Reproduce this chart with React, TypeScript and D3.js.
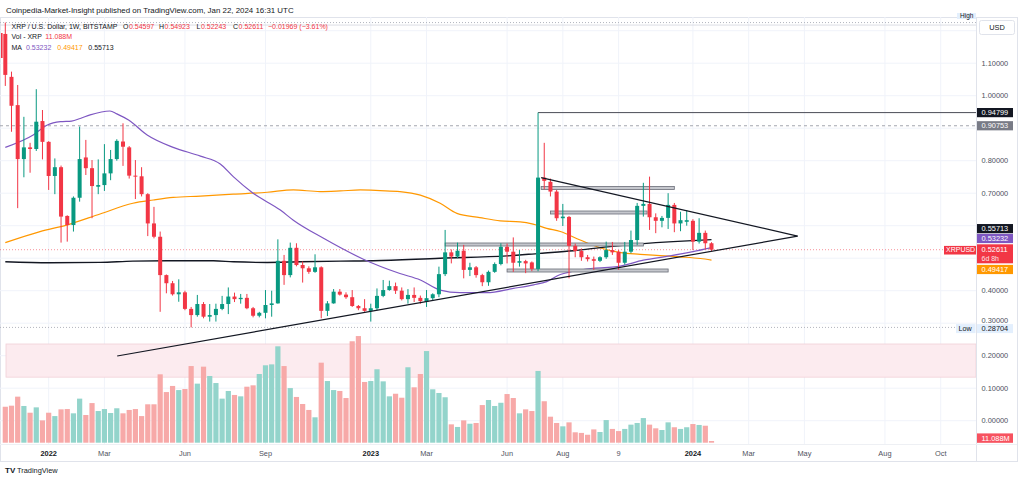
import React from "react";
import * as d3 from "d3";

// ---------- DATA ----------
const START = Date.UTC(2021, 10, 15); // first weekly candle (Mon)
const WEEK = 7 * 24 * 3600 * 1000;
const wk = (i: number) => new Date(START + i * WEEK);

const opens = [1.19,1.058,0.971,0.805,0.841,0.836,0.922,0.858,0.753,0.78,0.63,0.602,0.686,0.81,0.777,0.72,0.725,0.761,0.805,0.859,0.841,0.754,0.752,0.697,0.607,0.566,0.448,0.423,0.389,0.395,0.344,0.325,0.359,0.32,0.325,0.344,0.359,0.382,0.374,0.378,0.346,0.323,0.332,0.356,0.361,0.492,0.448,0.532,0.479,0.469,0.458,0.472,0.338,0.361,0.397,0.388,0.38,0.353,0.346,0.338,0.346,0.384,0.402,0.414,0.4,0.374,0.387,0.378,0.366,0.377,0.389,0.451,0.518,0.505,0.523,0.464,0.472,0.448,0.426,0.458,0.482,0.535,0.52,0.486,0.491,0.487,0.467,0.748,0.735,0.705,0.623,0.627,0.538,0.522,0.503,0.497,0.492,0.503,0.525,0.52,0.486,0.52,0.556,0.661,0.667,0.626,0.615,0.624,0.664,0.607,0.612,0.615,0.551,0.578,0.54597];
const highs = [1.225,1.074,1.033,0.935,0.855,1.02,0.956,0.86,0.807,0.785,0.632,0.69,0.905,0.864,0.802,0.804,0.851,0.833,0.866,0.915,0.845,0.802,0.78,0.7,0.658,0.582,0.45,0.43,0.435,0.4,0.35,0.387,0.365,0.359,0.36,0.384,0.41,0.394,0.39,0.39,0.35,0.335,0.402,0.4,0.558,0.51,0.548,0.546,0.49,0.475,0.512,0.475,0.368,0.405,0.405,0.395,0.402,0.356,0.374,0.36,0.407,0.433,0.431,0.425,0.41,0.405,0.41,0.385,0.402,0.392,0.474,0.587,0.527,0.548,0.541,0.486,0.476,0.452,0.462,0.487,0.546,0.545,0.564,0.525,0.495,0.49,0.948,0.855,0.745,0.71,0.667,0.63,0.545,0.53,0.51,0.505,0.506,0.551,0.55,0.525,0.55,0.585,0.67,0.732,0.751,0.638,0.63,0.7,0.67,0.643,0.648,0.62,0.623,0.585,0.54923];
const lows = [1.03,0.889,0.654,0.749,0.763,0.83,0.804,0.71,0.697,0.548,0.551,0.582,0.674,0.756,0.623,0.697,0.707,0.74,0.8,0.784,0.745,0.682,0.69,0.568,0.561,0.335,0.392,0.385,0.366,0.34,0.28704,0.32,0.315,0.305,0.305,0.34,0.328,0.365,0.36,0.343,0.318,0.318,0.315,0.32,0.36,0.418,0.441,0.475,0.425,0.452,0.455,0.315,0.322,0.36,0.385,0.375,0.35,0.34,0.335,0.305,0.34,0.38,0.4,0.39,0.37,0.36,0.365,0.36,0.35,0.37,0.38,0.445,0.484,0.5,0.438,0.445,0.44,0.414,0.415,0.455,0.478,0.484,0.458,0.474,0.454,0.46,0.46,0.712,0.69,0.615,0.599,0.438,0.503,0.492,0.49,0.464,0.488,0.498,0.51,0.464,0.48,0.515,0.54,0.628,0.587,0.577,0.595,0.59,0.58,0.583,0.6,0.525,0.545,0.527,0.52243];
const closes = [1.064,0.969,0.805,0.841,0.836,0.92,0.858,0.753,0.78,0.628,0.602,0.686,0.805,0.777,0.722,0.725,0.761,0.805,0.861,0.843,0.754,0.752,0.697,0.607,0.566,0.448,0.423,0.389,0.395,0.344,0.325,0.359,0.32,0.325,0.344,0.359,0.382,0.374,0.378,0.346,0.323,0.332,0.356,0.361,0.492,0.448,0.532,0.479,0.469,0.458,0.472,0.338,0.361,0.397,0.388,0.38,0.353,0.346,0.338,0.346,0.384,0.402,0.414,0.4,0.374,0.387,0.378,0.368,0.377,0.389,0.451,0.518,0.505,0.523,0.464,0.472,0.448,0.426,0.458,0.482,0.535,0.52,0.486,0.491,0.484,0.467,0.748,0.738,0.705,0.623,0.628,0.538,0.522,0.503,0.497,0.492,0.503,0.525,0.518,0.486,0.52,0.556,0.661,0.667,0.626,0.615,0.624,0.664,0.607,0.617,0.617,0.551,0.578,0.546,0.52611];
const volumes = [235,242,301,240,196,231,146,196,174,218,220,192,288,181,259,207,220,194,225,192,214,220,174,251,251,447,331,371,344,351,501,386,497,436,390,288,338,312,303,366,375,449,506,512,630,501,357,299,253,214,166,523,403,344,338,292,663,697,397,403,480,401,303,320,294,493,362,449,599,349,325,297,120,103,146,124,129,246,279,240,261,318,292,192,218,207,469,271,170,129,107,133,68,64,52,87,70,148,90,76,90,118,129,161,118,94,83,133,101,90,101,122,116,111,11.088];

// moving averages: [week index, price]
const maPurple = [[0,0.841],[4.5,0.879],[6.8,0.91],[8.9,0.92],[10.7,0.922],[12.1,0.93],[13.7,0.941],[16.9,0.953],[18,0.944],[19.9,0.925],[22.9,0.879],[27.1,0.841],[31.5,0.814],[34.7,0.79],[36.8,0.751],[40,0.7],[44.4,0.648],[46.5,0.617],[51.3,0.562],[57.8,0.497],[63.7,0.453],[67,0.433],[70.2,0.402],[73.4,0.394],[77.7,0.394],[82,0.407],[85.3,0.418],[87.4,0.428],[89.6,0.45],[91.2,0.458],[94.9,0.469],[98.8,0.474],[103,0.494],[107.3,0.507],[111,0.52],[114,0.53232]];
const maOrange = [[0,0.548],[5.6,0.582],[9.9,0.602],[15.3,0.636],[20.6,0.669],[23.9,0.679],[27.1,0.687],[31.5,0.691],[36.8,0.697],[42.3,0.703],[46.5,0.71],[50.8,0.705],[54.1,0.707],[57.3,0.71],[60.5,0.708],[63.7,0.705],[67,0.694],[70.2,0.669],[72.9,0.638],[76.6,0.625],[79.9,0.615],[83.1,0.612],[85.2,0.605],[87.4,0.592],[89.6,0.582],[92.8,0.556],[96,0.532],[99.3,0.517],[102.5,0.512],[105.7,0.508],[108.9,0.504],[112.2,0.499],[114,0.49417]];
const maBlack = [[0,0.489],[7.2,0.486],[15.3,0.487],[20.6,0.491],[26.1,0.492],[33.6,0.492],[36.8,0.489],[42.3,0.487],[47.6,0.489],[54.1,0.491],[59.4,0.492],[70.2,0.5],[81,0.507],[86.3,0.515],[91.7,0.523],[97.2,0.535],[102.5,0.544],[107.8,0.551],[114,0.55713]];

// drawings
const trendLower = [[18.06,0.199],[127.9,0.568]];
const trendUpper = [[86.5,0.748],[127.9,0.568]];
const zones = [
  { from: 86.5, to: 108, top: 0.7206, bottom: 0.7114 },
  { from: 88, to: 103.6, top: 0.6452, bottom: 0.636 },
  { from: 71, to: 103, top: 0.5468, bottom: 0.5375 },
  { from: 81, to: 107, top: 0.4668, bottom: 0.4575 },
];
const pinkBand = [0.134, 0.236];
const highLevel = 0.94799;
const highLevelFrom = 86;
const dashedLevel = 0.90753;
const lowLevel = 0.28704;
const lastPrice = 0.52611;
const rangeHigh = 1.225;

const priceTicks = [0, 0.1, 0.2, 0.4, 0.7, 0.8, 1.0, 1.1];
const squeezedTick = 0.3; // pushed up by the Low tag
const gridPrices = [0, 0.1, 0.2, 0.3, 0.4, 0.5, 0.6, 0.7, 0.8, 0.9, 1.0, 1.1, 1.2];
const timeTickDates = ["2022-01-03","2022-03-07","2022-06-06","2022-09-05","2023-01-02","2023-03-06","2023-06-05","2023-08-07","2023-10-09","2024-01-01","2024-03-04","2024-05-06","2024-08-05","2024-10-07"];
const timeTickLabels = ["2022","Mar","Jun","Sep","2023","Mar","Jun","Aug","9","2024","Mar","May","Aug","Oct"];

const UP = "#089981";
const DOWN = "#f23645";
const VOL_UP = "#93d4cb";
const VOL_DOWN = "#f7a9a8";
const FONT = "'Liberation Sans', Arial, sans-serif";

export default function App() {
  const L = 0, R = 976, T = 17, B = 444;
  const x = d3.scaleTime().domain([wk(0), wk(114)]).range([5.3, 711.5]);
  const xi = (i: number) => x(wk(i));
  const y = d3.scaleLinear().domain([0.4, 1.1]).range([290.7, 63.2]);
  const vy = d3.scaleLinear().domain([0, 700]).range([442.7, 335.6]);
  const line = d3.line<number[]>().x((d) => xi(d[0])).y((d) => y(d[1])).curve(d3.curveMonotoneX);
  const straight = d3.line<number[]>().x((d) => xi(d[0])).y((d) => y(d[1]));
  const fmt = d3.format(".5f");

  const axisTags = [
    { v: highLevel, shift: 0, bg: "#131722", fg: "#fff" },
    { v: dashedLevel, shift: 0, bg: "#787b86", fg: "#fff" },
    { v: 0.55713, shift: -11, bg: "#131722", fg: "#fff" },
    { v: 0.53232, shift: -9.2, bg: "#7e57c2", fg: "#fff" },
    { v: 0.49417, shift: 9.4, bg: "#ff9800", fg: "#fff" },
  ];
  const lowTagTop = y(lowLevel) - 3.3;

  return (
    <svg width={1024} height={483} style={{ position: "absolute", left: 0, top: 0, background: "#fff" }} fontFamily={FONT}>
      <defs>
        <clipPath id="plot"><rect x={L} y={T} width={R - L} height={B - T} /></clipPath>
        <clipPath id="topClip"><rect x={950} y={13} width={30} height={10} /></clipPath>
      </defs>
      <rect x={0} y={0} width={1024} height={483} fill="#fff" />
      <text x={6} y={12.5} fontSize={7.9} fill="#131722">Coinpedia-Market-Insight published on TradingView.com, Jan 22, 2024 16:31 UTC</text>

      {/* frame */}
      <rect x={0.5} y={T + 0.5} width={1017} height={444} fill="none" stroke="#e0e3eb" />
      <line x1={R + 0.5} x2={R + 0.5} y1={T} y2={461.5} stroke="#e0e3eb" />
      <line x1={0} x2={1017} y1={B + 0.5} y2={B + 0.5} stroke="#eef0f4" />

      <g clipPath="url(#plot)">
        {gridPrices.map((p) => (
          <line key={"g" + p} x1={L} x2={R} y1={y(p)} y2={y(p)} stroke="#f0f3fa" />
        ))}
        {timeTickDates.map((d) => {
          const xx = x(new Date(d + "T00:00:00Z"));
          return <line key={"v" + d} x1={xx} x2={xx} y1={T} y2={B} stroke="#f0f3fa" />;
        })}

        {/* pink band */}
        <rect x={6} y={y(pinkBand[1])} width={R - 6} height={y(pinkBand[0]) - y(pinkBand[1])} fill="#fcebef" stroke="#f1cfd8" strokeWidth={0.8} />

        {/* volume */}
        {volumes.map((v, i) => (
          <rect key={"vol" + i} x={xi(i) - 2.6} y={vy(v)} width={5.2} height={vy(0) - vy(v)} fill={closes[i] >= opens[i] ? VOL_UP : VOL_DOWN} />
        ))}

        {/* levels */}
        <line x1={L} x2={R} y1={y(rangeHigh)} y2={y(rangeHigh)} stroke="#b2b5be" strokeDasharray="1,2" />
        <line x1={L} x2={R} y1={y(rangeHigh) + 2.5} y2={y(rangeHigh) + 2.5} stroke="#d1d4dc" strokeWidth={0.8} />
        <line x1={L} x2={R} y1={y(dashedLevel)} y2={y(dashedLevel)} stroke="#a3a6af" strokeDasharray="3,3" />
        <line x1={xi(highLevelFrom)} x2={R} y1={y(highLevel)} y2={y(highLevel)} stroke="#4a4d57" strokeWidth={1} />
        <line x1={L} x2={955} y1={y(lowLevel)} y2={y(lowLevel)} stroke="#b2b5be" strokeDasharray="1,2" />
        <line x1={L} x2={R} y1={y(lastPrice)} y2={y(lastPrice)} stroke="#f23645" strokeOpacity={0.55} strokeDasharray="1,2" />

        {/* moving averages */}
        <path d={line(maOrange as any) || ""} fill="none" stroke="#ff9800" strokeWidth={1.2} />
        <path d={line(maBlack as any) || ""} fill="none" stroke="#131722" strokeWidth={1.4} />
        <path d={line(maPurple as any) || ""} fill="none" stroke="#7e57c2" strokeWidth={1.2} />

        {/* zones */}
        {zones.map((z, k) => (
          <rect key={"z" + k} x={xi(z.from)} y={y(z.top)} width={xi(z.to) - xi(z.from)} height={y(z.bottom) - y(z.top)} fill="#c5c7cd" stroke="#6a6d78" strokeWidth={0.8} />
        ))}

        {/* candles */}
        {opens.map((o, i) => {
          const c = closes[i];
          const col = c >= o ? UP : DOWN;
          const cx = xi(i);
          const top = y(Math.max(o, c));
          const h = Math.max(1, Math.abs(y(o) - y(c)));
          return (
            <g key={"c" + i}>
              <line x1={cx} x2={cx} y1={y(highs[i])} y2={y(lows[i])} stroke={col} strokeWidth={1} />
              <rect x={cx - 2} y={top} width={4} height={h} fill={col} />
            </g>
          );
        })}

        {/* triangle */}
        <path d={straight(trendLower as any) || ""} fill="none" stroke="#131722" strokeWidth={1.2} />
        <path d={straight(trendUpper as any) || ""} fill="none" stroke="#131722" strokeWidth={1.2} />
      </g>

      {/* legend */}
      <rect x={1} y={33} width={1.6} height={25} fill={DOWN} />
      <g fontSize={7}>
        <text y={28.6} fill="#131722">
          <tspan x={11.5}>XRP / U.S. Dollar, 1W, BITSTAMP</tspan>
          <tspan x={123}>O</tspan>
          <tspan dx={0.5} fill={DOWN}>{fmt(opens[114])}</tspan>
          <tspan x={159}>H</tspan>
          <tspan dx={0.5} fill={DOWN}>{fmt(highs[114])}</tspan>
          <tspan x={196.5}>L</tspan>
          <tspan dx={0.5} fill={DOWN}>{fmt(lows[114])}</tspan>
          <tspan x={233}>C</tspan>
          <tspan dx={0.5} fill={DOWN}>{fmt(closes[114])}</tspan>
          <tspan x={268} fill={DOWN}>−0.01969 (−3.61%)</tspan>
        </text>
        <text y={39.3} fill="#131722">
          <tspan x={11.5}>Vol - XRP</tspan>
          <tspan dx={3.5} fill={DOWN}>11.088M</tspan>
        </text>
        <text y={50} fill="#131722">
          <tspan x={11.5}>MA</tspan>
          <tspan x={26} fill="#7e57c2">{fmt(maPurple[maPurple.length - 1][1])}</tspan>
          <tspan x={57.3} fill="#ff9800">{fmt(maOrange[maOrange.length - 1][1])}</tspan>
          <tspan x={88.3} fill="#131722">{fmt(maBlack[maBlack.length - 1][1])}</tspan>
        </text>
      </g>

      {/* High marker at top (mostly cut off) */}
      <g clipPath="url(#topClip)">
        <rect x={957} y={11} width={19} height={8} fill="#e3effd" />
        <text x={960} y={17.5} fontSize={6.5} fill="#131722">High</text>
      </g>

      {/* price axis */}
      <rect x={979.5} y={20.5} width={35} height={14} rx={2} fill="#fff" stroke="#e0e3eb" />
      <text x={997} y={30.3} fontSize={7.4} fill="#131722" textAnchor="middle">USD</text>
      {priceTicks.map((p) => (
        <text key={"t" + p} x={981.5} y={y(p) + 2.6} fontSize={7.4} fill="#4c525e">{fmt(p)}</text>
      ))}
      <text x={981.5} y={Math.min(y(squeezedTick) + 2.6, lowTagTop - 0.8)} fontSize={7.4} fill="#4c525e">{fmt(squeezedTick)}</text>
      {axisTags.map((t, k) => {
        const cy = y(t.v) + t.shift;
        return (
          <g key={"tag" + k}>
            <rect x={977} y={cy - 4.6} width={36} height={9.2} fill={t.bg} />
            <text x={981.5} y={cy + 2.6} fontSize={7.4} fill={t.fg}>{fmt(t.v)}</text>
          </g>
        );
      })}
      {/* last price tag */}
      <rect x={977} y={y(lastPrice) - 5.4} width={36} height={19} fill={DOWN} />
      <text x={981.5} y={y(lastPrice) + 1.8} fontSize={7.4} fill="#fff">{fmt(lastPrice)}</text>
      <text x={981.5} y={y(lastPrice) + 11} fontSize={7} fill="#fde3e6">6d 8h</text>
      <rect x={944} y={y(lastPrice) - 3.8} width={32} height={8.6} fill={DOWN} />
      <text x={946} y={y(lastPrice) + 2.7} fontSize={7} fill="#fff">XRPUSD</text>
      {/* low tag */}
      <rect x={956} y={lowTagTop} width={19.5} height={9} fill="#e3effd" />
      <text x={958.5} y={y(lowLevel) + 3.6} fontSize={7.2} fill="#131722">Low</text>
      <rect x={977} y={lowTagTop} width={36} height={9} fill="#e3effd" />
      <text x={981.5} y={y(lowLevel) + 3.6} fontSize={7.4} fill="#131722">{fmt(lowLevel)}</text>
      {/* volume tag */}
      <rect x={977} y={vy(volumes[114]) - 7.6} width={36} height={9.4} fill="#f7525f" />
      <text x={981.5} y={vy(volumes[114]) - 0.4} fontSize={7.4} fill="#fff">11.088M</text>

      {/* time axis */}
      {timeTickDates.map((d, k) => {
        const isYear = /^\d{4}$/.test(timeTickLabels[k]);
        return (
          <text key={"tl" + d} x={x(new Date(d + "T00:00:00Z"))} y={455.5} fontSize={7.4} textAnchor="middle" fill={isYear ? "#131722" : "#50535e"} fontWeight={isYear ? 700 : 400}>
            {timeTickLabels[k]}
          </text>
        );
      })}

      {/* logo */}
      <text x={5} y={473} fontSize={8} fontWeight={900} fill="#131722">TV</text>
      <text x={17} y={473} fontSize={7.4} fill="#131722">TradingView</text>
    </svg>
  );
}
